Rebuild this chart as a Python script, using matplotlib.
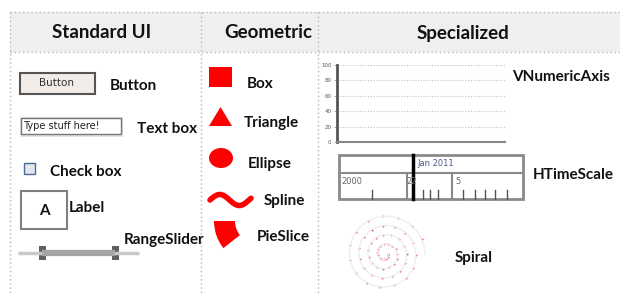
import numpy as np
import matplotlib.pyplot as plt
from matplotlib.patches import Rectangle, Polygon, Ellipse, Wedge

# column headers and item labels
headers = ['Standard UI', 'Geometric', 'Specialized']
header_x = [102, 268, 463]
ui_labels = ['Button', 'Text box', 'Check box', 'Label', 'RangeSlider']
geo_labels = ['Box', 'Triangle', 'Ellipse', 'Spline', 'PieSlice']
spec_labels = ['VNumericAxis', 'HTimeScale', 'Spiral']
axis_ticks = [0, 20, 40, 60, 80, 100]
time_labels = ['Jan 2011', '2000', '22', '5']

RED = '#ff0000'
BOLD = dict(family=['Lato', 'DejaVu Sans'], fontweight='bold', color='#111111')

fig = plt.figure(figsize=(6.2, 2.94), dpi=100)
ax = fig.add_axes([0, 0, 1, 1])
ax.set_xlim(0, 620)
ax.set_ylim(294, 0)
ax.axis('off')

# table frame
ax.add_patch(Rectangle((10, 12), 610, 40, facecolor='#efefef', edgecolor='none'))
grid = dict(color='#b5b5b5', lw=1.0, ls=(0, (1, 2)))
ax.plot([10, 620], [12, 12], **grid)
ax.plot([10, 620], [52, 52], **grid)
for x in [10, 201, 318]:
    ax.plot([x, x], [12, 294], **grid)
for h, x in zip(headers, header_x):
    ax.text(x, 33, h, ha='center', va='center', fontsize=13.5, **BOLD)

# ---- Standard UI ----
ax.add_patch(Rectangle((20, 73), 75, 21, facecolor='#f1ece7', edgecolor='#555555', lw=1.5))
ax.text(57, 83.5, 'Button', ha='center', va='center', fontsize=7.5, color='#333333',
        family='DejaVu Sans')
ax.text(110, 86, ui_labels[0], ha='left', va='center', fontsize=11, **BOLD)

ax.add_patch(Rectangle((20, 117), 103, 20, facecolor='#e4e2de', edgecolor='none'))
ax.add_patch(Rectangle((21, 118), 100, 16, facecolor='white', edgecolor='#777777', lw=1))
ax.text(23, 126, 'Type stuff here!', ha='left', va='center', fontsize=7, color='#222222',
        family='DejaVu Sans')
ax.text(137, 129, ui_labels[1], ha='left', va='center', fontsize=11, **BOLD)

ax.add_patch(Rectangle((24, 163), 11, 11, facecolor='#e3e6ec', edgecolor='#4a6a96', lw=1))
ax.text(50, 172, ui_labels[2], ha='left', va='center', fontsize=11, **BOLD)

ax.add_patch(Rectangle((21, 191), 46, 38, facecolor='white', edgecolor='#808080', lw=1.5))
ax.text(44, 211, 'A', ha='center', va='center', fontsize=11, **BOLD)
ax.text(69, 208, ui_labels[3], ha='left', va='center', fontsize=11, **BOLD)

ax.plot([18, 139], [253, 253], color='#c8c8c8', lw=2.5, solid_capstyle='butt')
ax.plot([42, 115], [253, 253], color='#a5a5a5', lw=4.5, solid_capstyle='butt')
for hx in [42, 115]:
    ax.add_patch(Rectangle((hx - 3.5, 246), 7, 14, facecolor='#606060', edgecolor='none'))
ax.text(124, 240, ui_labels[4], ha='left', va='center', fontsize=11, **BOLD)

# ---- Geometric ----
ax.add_patch(Rectangle((209, 67), 23, 20, facecolor=RED, edgecolor='none'))
ax.add_patch(Polygon([(209, 126), (232, 126), (220.5, 107)], facecolor=RED, edgecolor='none'))
ax.add_patch(Ellipse((221, 158), 24, 20, facecolor=RED, edgecolor='none'))
sx = np.linspace(210, 251, 80)
ax.plot(sx, 200 - 5.5 * np.sin((sx - 210) / 41 * 2 * np.pi * 1.05), color=RED, lw=4,
        solid_capstyle='round')
ax.add_patch(Wedge((258, 221), 44, 142, 180, width=21, facecolor=RED, edgecolor='none'))
geo_pos = [(247, 84), (244, 123), (248, 164), (264, 201), (257, 237)]
for lab, (x, y) in zip(geo_labels, geo_pos):
    ax.text(x, y, lab, ha='left', va='center', fontsize=11, **BOLD)

# ---- Specialized ----
ax.text(512, 77, spec_labels[0], ha='left', va='center', fontsize=11, **BOLD)
ax.text(533, 175, spec_labels[1], ha='left', va='center', fontsize=11, **BOLD)
ax.text(455, 258, spec_labels[2], ha='left', va='center', fontsize=11, **BOLD)

# time scale
ax.add_patch(Rectangle((339, 155), 184, 44, facecolor='white', edgecolor='#8a8a8a', lw=2))
ax.plot([339, 523], [173, 173], color='#8a8a8a', lw=1.5)
for x in [407, 452]:
    ax.plot([x, x], [173, 199], color='#8a8a8a', lw=1.5)
for x in [372, 423, 430, 438, 463, 475, 485, 495, 507]:
    ax.plot([x, x], [190, 199], color='#555555', lw=1)
ax.plot([413, 413], [155, 199], color='black', lw=2.5)
ax.text(417, 164, time_labels[0], ha='left', va='center', fontsize=6, color='#4a5a8a',
        family='DejaVu Sans')
ax.text(341, 182, time_labels[1], ha='left', va='center', fontsize=6, color='#666666',
        family='DejaVu Sans')
ax.text(406, 182, time_labels[2], ha='left', va='center', fontsize=6, color='#666666',
        family='DejaVu Sans')
ax.text(455, 182, time_labels[3], ha='left', va='center', fontsize=6, color='#666666',
        family='DejaVu Sans')

# spiral
t = np.linspace(0, 4 * 2 * np.pi, 600)
r = 3 + 37 * t / t[-1]
ax.plot(385 + r * np.cos(t), 254 + r * np.sin(t), color='#eeeeee', lw=1)
td = t[::10]
rd = r[::10]
ax.scatter(385 + rd * np.cos(td), 254 + rd * np.sin(td), s=2, color='#e04050', lw=0)

# numeric axis
ia = fig.add_axes([337 / 620, (294 - 142) / 294, 168 / 620, 77 / 294])
ia.set_xlim(0, 1)
ia.set_ylim(0, 100)
ia.set_yticks(axis_ticks)
ia.set_yticklabels([str(v) for v in axis_ticks], fontsize=4, color='#555555')
ia.tick_params(axis='y', length=2, width=0.5, pad=2, color='#888888')
ia.set_xticks([])
for v in axis_ticks[1:]:
    ia.axhline(v, color='#c0c0c0', lw=0.8, ls=(0, (1, 1.5)))
ia.spines['top'].set_visible(False)
ia.spines['right'].set_visible(False)
ia.spines['left'].set_color('#555555')
ia.spines['left'].set_linewidth(2)
ia.spines['bottom'].set_color('#888888')
ia.spines['bottom'].set_linewidth(1.5)
ia.patch.set_alpha(0)

fig.savefig('out.png', dpi=100)
